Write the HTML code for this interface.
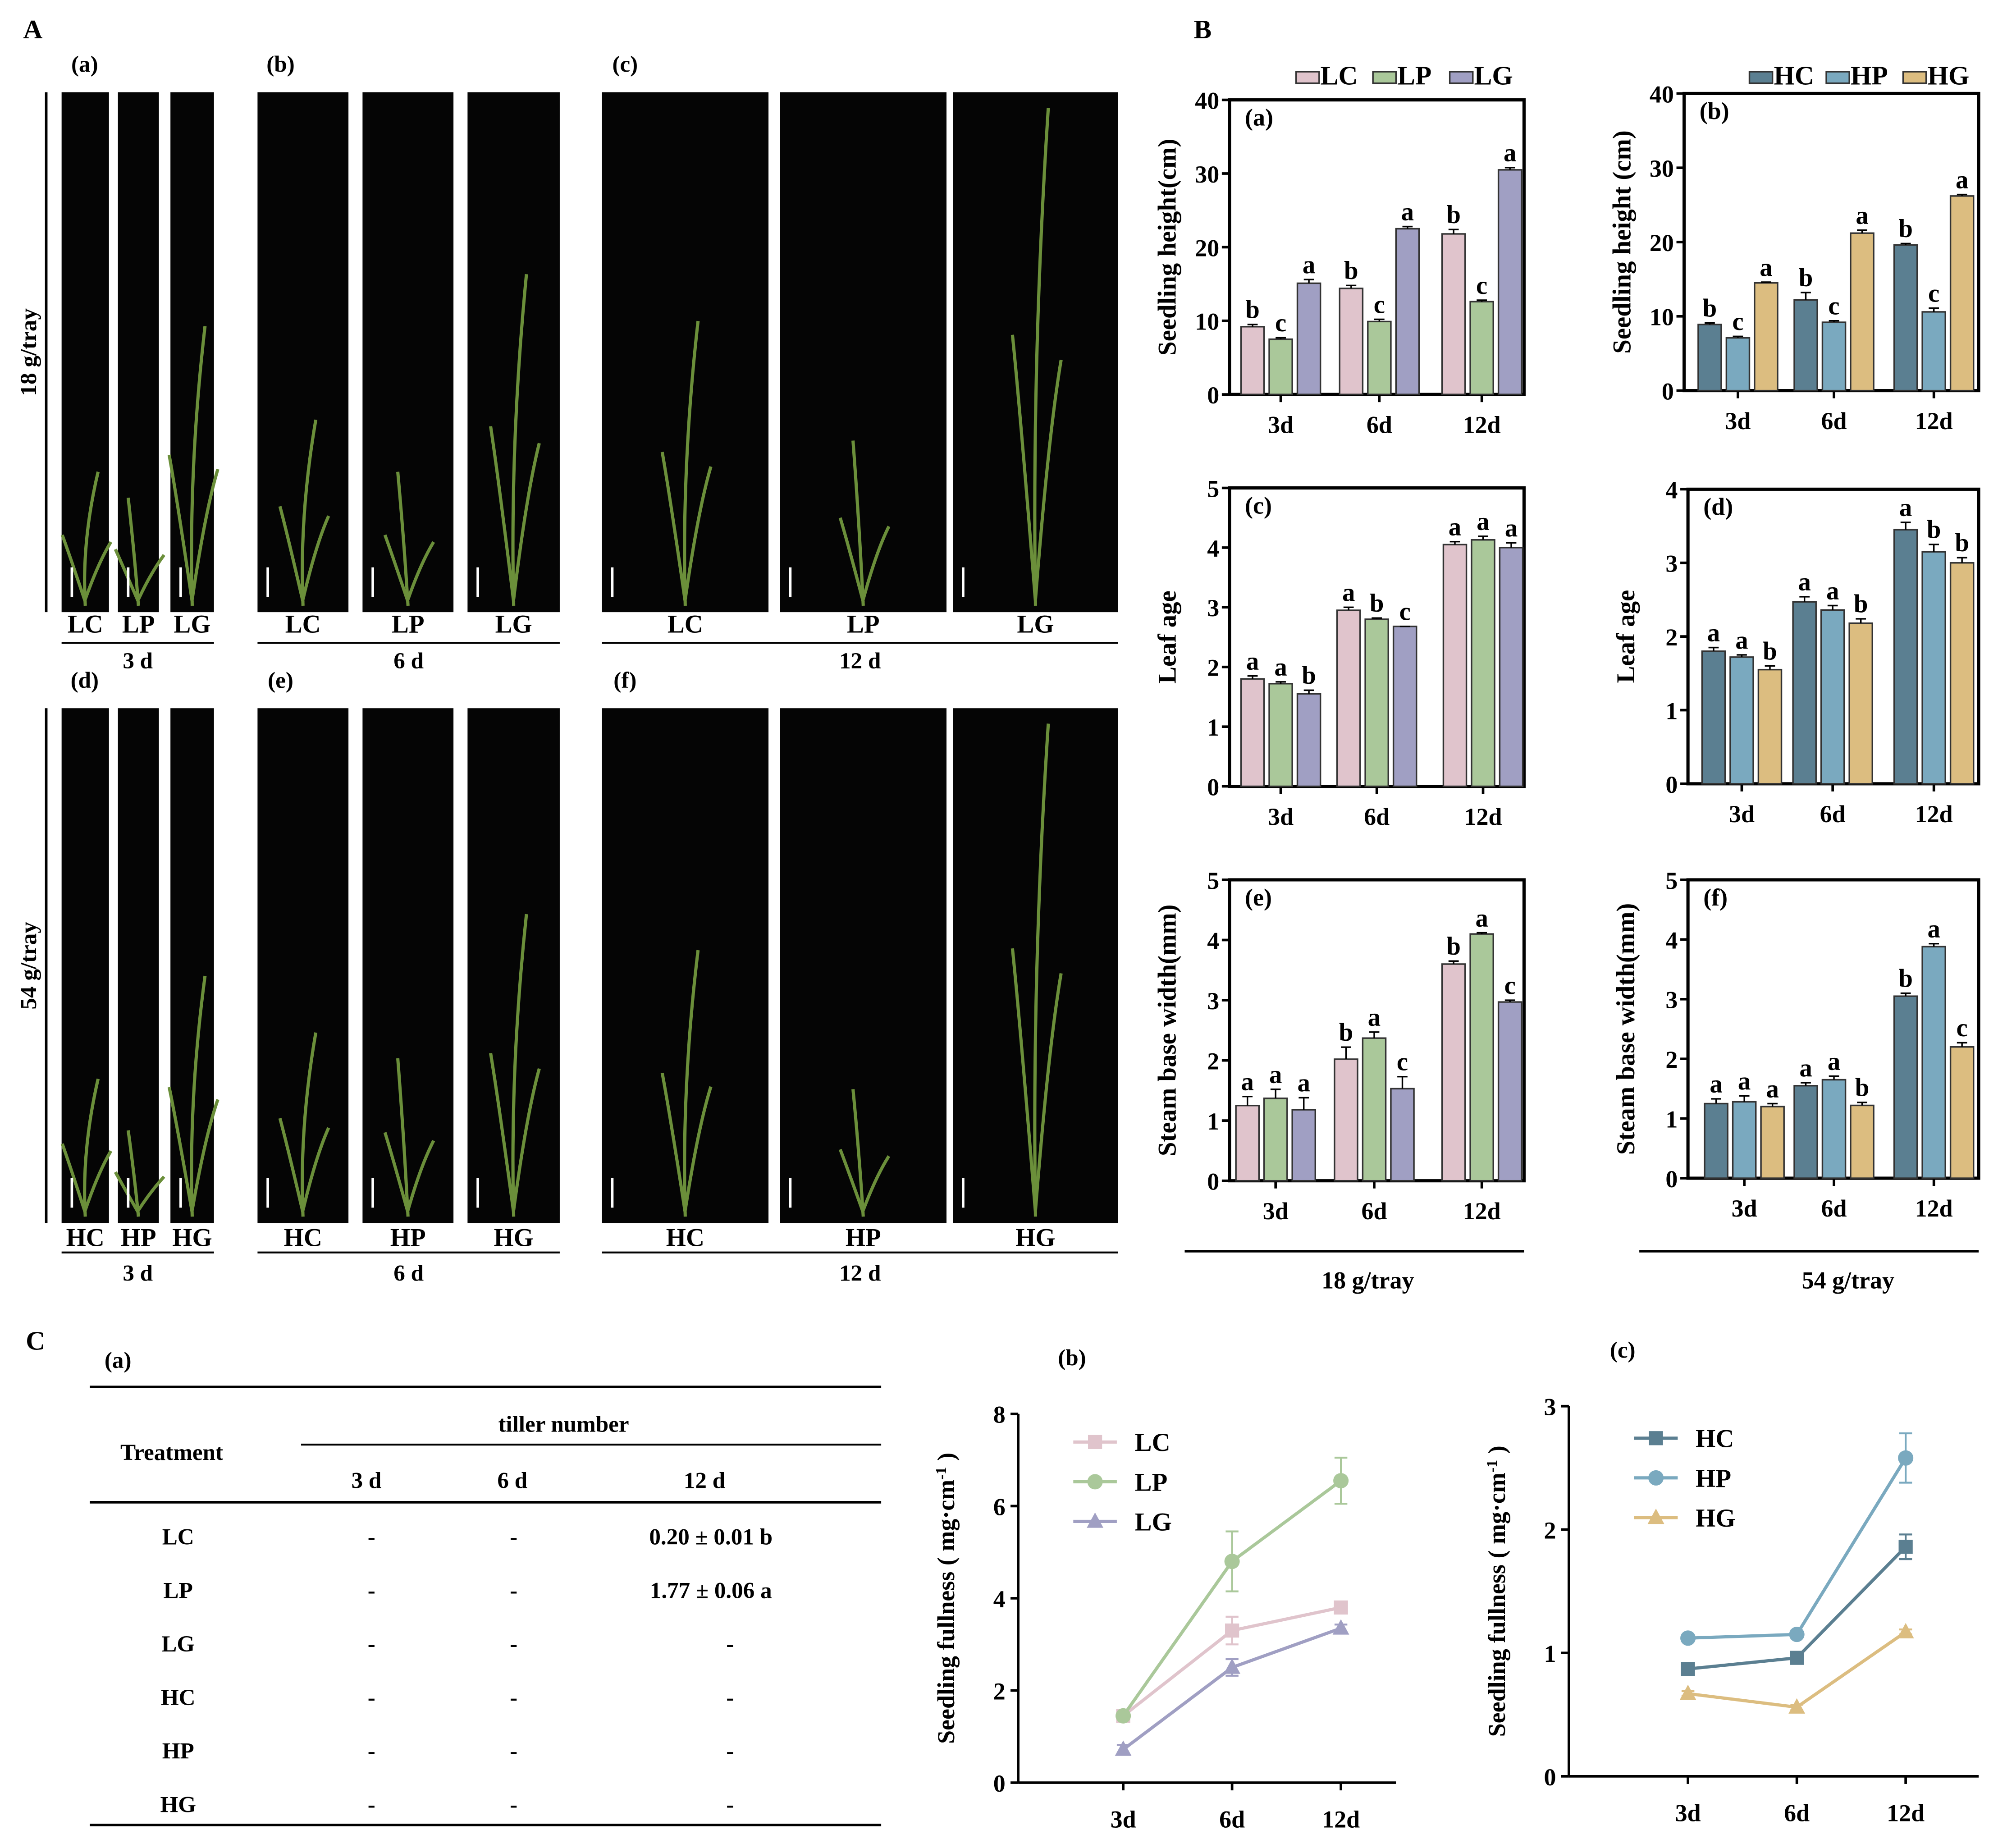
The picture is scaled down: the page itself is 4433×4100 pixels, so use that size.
<!DOCTYPE html>
<html><head><meta charset="utf-8"><style>
html,body{margin:0;padding:0;background:#fff}
svg{display:block}
text{font-family:"Liberation Serif",serif;font-weight:bold;fill:#000}
</style></head><body>
<svg id="fig" width="4433" height="4100" viewBox="0 0 1560 1443" xmlns="http://www.w3.org/2000/svg">
<g id="root"></g>
</svg>
<script>
// ---- data ----
const days = ["3d","6d","12d"];
const htL = {LC:[9.2,14.4,21.8],LP:[7.5,9.9,12.6],LG:[15.1,22.5,30.5]};
const htLerr = {LC:[0.3,0.4,0.6],LP:[0.2,0.3,0.2],LG:[0.5,0.3,0.3]};
const htLlet = {LC:["b","b","b"],LP:["c","c","c"],LG:["a","a","a"]};
const htH = {HC:[8.9,12.2,19.6],HP:[7.1,9.2,10.6],HG:[14.5,21.2,26.2]};
const htHerr = {HC:[0.2,1.0,0.2],HP:[0.2,0.2,0.5],HG:[0.1,0.4,0.2]};
const htHlet = {HC:["b","b","b"],HP:["c","c","c"],HG:["a","a","a"]};
const laL = {LC:[1.8,2.95,4.05],LP:[1.72,2.8,4.13],LG:[1.55,2.68,4.0]};
const laLerr = {LC:[0.05,0.05,0.05],LP:[0.03,0.02,0.06],LG:[0.06,0,0.08]};
const laLlet = {LC:["a","a","a"],LP:["a","b","a"],LG:["b","c","a"]};
const laH = {HC:[1.8,2.47,3.45],HP:[1.72,2.36,3.15],HG:[1.55,2.18,3.0]};
const laHerr = {HC:[0.05,0.07,0.1],HP:[0.03,0.06,0.1],HG:[0.05,0.06,0.07]};
const laHlet = {HC:["a","a","a"],HP:["a","a","b"],HG:["b","b","b"]};
const swL = {LC:[1.25,2.02,3.6],LP:[1.37,2.37,4.1],LG:[1.18,1.53,2.97]};
const swLerr = {LC:[0.15,0.2,0.05],LP:[0.15,0.1,0.02],LG:[0.2,0.2,0.03]};
const swLlet = {LC:["a","b","b"],LP:["a","a","a"],LG:["a","c","c"]};
const swH = {HC:[1.25,1.55,3.05],HP:[1.28,1.65,3.88],HG:[1.2,1.22,2.2]};
const swHerr = {HC:[0.08,0.05,0.05],HP:[0.1,0.06,0.05],HG:[0.05,0.05,0.07]};
const swHlet = {HC:["a","a","b"],HP:["a","a","a"],HG:["a","b","c"]};
const fullL = {LC:[1.45,3.3,3.8],LP:[1.45,4.8,6.55],LG:[0.72,2.5,3.35]};
const fullLerr = {LC:[0.05,0.3,0.08],LP:[0.05,0.65,0.5],LG:[0.1,0.18,0.08]};
const fullH = {HC:[0.87,0.96,1.86],HP:[1.12,1.15,2.58],HG:[0.67,0.56,1.17]};
const fullHerr = {HC:[0.02,0.03,0.1],HP:[0.02,0.03,0.2],HG:[0.02,0.02,0.02]};
const tableRows = ["LC","LP","LG","HC","HP","HG"];
const table12 = ["0.20 ± 0.01 b","1.77 ± 0.06 a","-","-","-","-"];

const colors = {LC:"#e0c4cc",LP:"#aac89a",LG:"#a09fc3",HC:"#5b7f91",HP:"#7aa9bf",HG:"#dcbd80"};
const NS="http://www.w3.org/2000/svg";
const root=document.getElementById('root');
function el(tag,attrs,parent,txt){const e=document.createElementNS(NS,tag);for(const k in attrs)e.setAttribute(k,attrs[k]);if(txt!==undefined)e.textContent=txt;(parent||root).appendChild(e);return e;}
function T(x,y,s,size,anchor,name,rot){const t=el('text',{x:x,y:y,'font-size':size,'text-anchor':anchor||'middle'},root,s);


if(rot)t.setAttribute('transform','rotate(-90 '+x+' '+y+')');return t;}
function L(x1,y1,x2,y2,w,name){const l=el('line',{x1:x1,y1:y1,x2:x2,y2:y2,stroke:'#000','stroke-width':w||2});

return l;}

// ---- Panel A ----
T(18,30,"A",21,'start','panel-a-label');T(932,30,"B",21,'start','panel-b-label');T(20,1054,"C",21,'start','panel-c-label');
const groupsA=[[[48,85],[92,124],[133,167]],[[201,272],[283,354],[365,437]],[[470,600],[609,739],[744,873]]];
const plantH=[[0.27,0.22,0.55],[0.37,0.27,0.65],[0.56,0.33,0.97]];
const plantH2=[[0.28,0.18,0.48],[0.37,0.32,0.60],[0.53,0.26,0.97]];
const subl=[["(a)","(b)","(c)"],["(d)","(e)","(f)"]];
const names=[["LC","LP","LG"],["HC","HP","HG"]];
const dayl=["3 d","6 d","12 d"];
[[72,478,494,502,522,plantH],[553,955,973,978,1000,plantH2]].forEach((r,ri)=>{
 const [y0,y1,ly,lny,dy,ph]=r;
 L(36,y0,36,y1,2,'row-bracket');
 T(28,(y0+y1)/2,ri?"54 g/tray":"18 g/tray",18,'middle','row-label',true);
 groupsA.forEach((g,gi)=>{
  T(g[0][0]+18,y0-16,subl[ri][gi],18,'middle','photo-group-label');
  g.forEach((p,pi)=>{
   const rc=el('rect',{x:p[0],y:y0,width:p[1]-p[0],height:y1-y0,fill:'#050505'});
   
   
   const cx=(p[0]+p[1])/2, h=(y1-y0)*ph[gi][pi];
   const pl=el('path',{d:`M${cx} ${y1-5} Q${cx-3} ${y1-h*0.5} ${cx+ (pi%2?-8:10)} ${y1-h} M${cx} ${y1-8} Q${cx-12} ${y1-h*0.4} ${cx-18} ${y1-h*0.55} M${cx} ${y1-10} Q${cx+10} ${y1-h*0.35} ${cx+20} ${y1-h*0.5}`,stroke:'#6b8f3a','stroke-width':2.5,fill:'none'});
   
   
   L(p[0]+8,y1-35,p[0]+8,y1-12,2,'scale-bar').setAttribute('stroke','#fff');
   T(cx,ly,names[ri][pi],20,'middle','photo-label');
  });
  L(g[0][0],lny,g[2][1],lny,1.5,'day-underline');
  T((g[0][0]+g[2][1])/2,dy,dayl[gi],18,'middle','day-label');
 });
});

// ---- bar charts ----
function barChart(cfg){
 const {x0,x1,yTop,yBot,max,step,data,err,lets,groups,title,tag}=cfg;
 const ys=v=>yBot-(v/max)*(yBot-yTop);
 const box=el('rect',{x:x0,y:yTop,width:x1-x0,height:yBot-yTop,fill:'none',stroke:'#000','stroke-width':2.5});
 
 
 for(let v=0;v<=max+1e-9;v+=step){L(x0-6,ys(v),x0,ys(v),2,'y-tick');T(x0-8,ys(v)+7,String(v),19,'end','y-tick-label');}
 T(x0+12,yTop+20,tag,19,'start','chart-tag');
 T(x0-42,(yTop+yBot)/2,title,20,'middle','y-axis-title',true);
 const keys=Object.keys(data);const bw=18;
 groups.forEach((gx,gi)=>{
  L(gx,yBot,gx,yBot+6,2,'x-tick');T(gx,yBot+30,days[gi],19,'middle','x-tick-label');
  keys.forEach((k,ki)=>{
   const v=data[k][gi],bx=gx+(ki-1)*(bw+4)-bw/2;
   const b=el('rect',{x:bx,y:ys(v),width:bw,height:yBot-ys(v),fill:colors[k],stroke:'#333','stroke-width':1.2});
   
   
   const e=err[k][gi],ex=bx+bw/2;
   L(ex,ys(v),ex,ys(v+e),1.2,'error-bar');L(ex-4,ys(v+e),ex+4,ys(v+e),1.2,'error-cap');
   T(ex,ys(v+e)-5,lets[k][gi],20,'middle','significance-letter');
  });
 });
}
barChart({x0:960,x1:1190,yTop:78,yBot:308,max:40,step:10,data:htL,err:htLerr,lets:htLlet,groups:[1000,1077,1157],title:"Seedling height(cm)",tag:"(a)"});
barChart({x0:1315,x1:1545,yTop:73,yBot:305,max:40,step:10,data:htH,err:htHerr,lets:htHlet,groups:[1357,1432,1510],title:"Seedling height (cm)",tag:"(b)"});
barChart({x0:960,x1:1190,yTop:381,yBot:614,max:5,step:1,data:laL,err:laLerr,lets:laLlet,groups:[1000,1075,1158],title:"Leaf age",tag:"(c)"});
barChart({x0:1318,x1:1545,yTop:382,yBot:612,max:4,step:1,data:laH,err:laHerr,lets:laHlet,groups:[1360,1431,1510],title:"Leaf age",tag:"(d)"});
barChart({x0:960,x1:1190,yTop:687,yBot:922,max:5,step:1,data:swL,err:swLerr,lets:swLlet,groups:[996,1073,1157],title:"Steam base width(mm)",tag:"(e)"});
barChart({x0:1318,x1:1545,yTop:687,yBot:920,max:5,step:1,data:swH,err:swHerr,lets:swHlet,groups:[1362,1432,1510],title:"Steam base width(mm)",tag:"(f)"});
// legends
function barLegend(x,y,keys){keys.forEach((k,i)=>{const xx=x+i*60;const r=el('rect',{x:xx,y:y-10,width:18,height:9,fill:colors[k],stroke:'#333','stroke-width':1.2});
 
 
 T(xx+19,y,k,21,'start','legend-entry');});}
barLegend(1012,66,["LC","LP","LG"]);barLegend(1366,66,["HC","HP","HG"]);
L(925,977,1190,977,2,'group-bracket');T(1068,1006,"18 g/tray",19,'middle','group-label');
L(1280,977,1545,977,2,'group-bracket');T(1443,1006,"54 g/tray",19,'middle','group-label');

// ---- table C(a) ----
T(92,1068,"(a)",18,'middle','table-tag');
L(70,1083,688,1083,2,'table-rule');L(235,1128,688,1128,1.5,'table-rule');L(70,1173,688,1173,2,'table-rule');L(70,1425,688,1425,2,'table-rule');
T(440,1118,"tiller number",18,'middle','table-header');T(134,1140,"Treatment",18,'middle','table-header');
T(286,1162,"3 d",18,'middle','table-header');T(400,1162,"6 d",18,'middle','table-header');T(550,1162,"12 d",18,'middle','table-header');
tableRows.forEach((r,i)=>{const y=1206+i*41.8;T(139,y,r,18,'middle','table-row-label');T(290,y,"-",18,'middle','table-cell');T(401,y,"-",18,'middle','table-cell');T(i<2?555:570,y,table12[i],18,'middle','table-cell');});

// ---- line charts ----
function marker(type,x,y,c,name){let m;
 if(type==='s')m=el('rect',{x:x-5.5,y:y-5.5,width:11,height:11,fill:c});
 else if(type==='c')m=el('circle',{cx:x,cy:y,r:6,fill:c});
 else m=el('polygon',{points:`${x},${y-7} ${x+6.5},${y+5} ${x-6.5},${y+5}`,fill:c});
 
 }
function lineChart(cfg){
 const {x0,x1,yTop,yBot,max,step,data,err,xs,tag,marks,lx,ly}=cfg;
 const ys=v=>yBot-(v/max)*(yBot-yTop);
 L(x0,yTop,x0,yBot,2,'y-axis');L(x0,yBot,x1,yBot,2,'x-axis');
 for(let v=0;v<=max+1e-9;v+=step){L(x0-6,ys(v),x0,ys(v),2,'y-tick');T(x0-10,ys(v)+7,String(v),19,'end','y-tick-label');}
 xs.forEach((x,i)=>{L(x,yBot,x,yBot+6,2,'x-tick');T(x,yBot+35,days[i],19,'middle','x-tick-label');});
 T(x0+42,yTop-38,tag,18,'middle','chart-tag');
 const yt=T(x0-50,(yTop+yBot)/2,"Seedling fullness ( mg·cm",19,'middle','y-axis-title',true);
 el('tspan',{'baseline-shift':'super','font-size':12},yt,"-1");el('tspan',{},yt," )");
 Object.keys(data).forEach((k,ki)=>{
  const pts=data[k].map((v,i)=>xs[i]+','+ys(v)).join(' ');
  const pl=el('polyline',{points:pts,fill:'none',stroke:colors[k],'stroke-width':2.5});
  
  
  data[k].forEach((v,i)=>{
   const e=err[k][i],c=colors[k];
   const eb=el('path',{d:`M${xs[i]} ${ys(v-e)}V${ys(v+e)}M${xs[i]-5} ${ys(v-e)}h10M${xs[i]-5} ${ys(v+e)}h10`,stroke:c,'stroke-width':1.5,fill:'none'});
   
   
   marker(marks[ki],xs[i],ys(v),c,'point-'+k+'-'+days[i]);
  });
  const yy=ly+ki*31;
  L(lx,yy,lx+34,yy,2.5,'legend-line').setAttribute('stroke',colors[k]);
  marker(marks[ki],lx+17,yy,colors[k],'legend-marker');
  T(lx+48,yy+7,k,20,'start','legend-entry');
 });
}
lineChart({x0:795,x1:1090,yTop:1104,yBot:1392,max:8,step:2,data:fullL,err:fullLerr,xs:[877,962,1047],tag:"(b)",marks:['s','c','t'],lx:838,ly:1126});
lineChart({x0:1225,x1:1545,yTop:1098,yBot:1387,max:3,step:1,data:fullH,err:fullHerr,xs:[1318,1403,1488],tag:"(c)",marks:['s','c','t'],lx:1276,ly:1123});
</script>
</body></html>
